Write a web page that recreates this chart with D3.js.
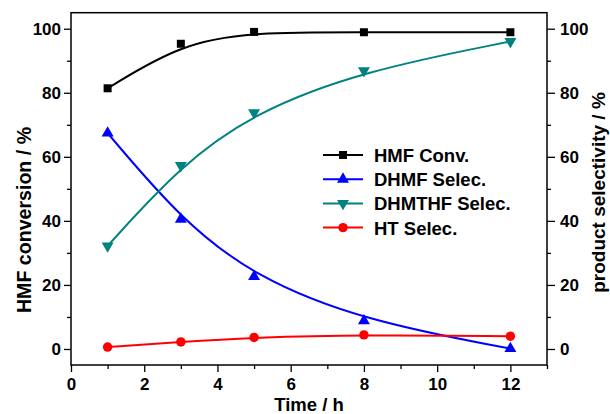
<!DOCTYPE html>
<html>
<head>
<meta charset="utf-8">
<script src="https://cdn.jsdelivr.net/npm/d3@7"></script>
<style>
  body { margin: 0; background: #fff; }
  text { font-family: "Liberation Sans", Arial, sans-serif; font-weight: bold; }
</style>
</head>
<body>
<div id="chart"></div>
<script>
// reaction time (h)
var times = [1, 3, 5, 8, 12];

// series values (%)
var hmfConv = [81.4, 95.3, 99.0, 98.9, 98.9];
var dhmfSel = [67.4, 40.5, 22.6, 8.8, 0.1];
var dhmthfSel = [32.2, 57.3, 73.8, 86.9, 96.0];
var htSel = [0.6, 2.2, 3.6, 4.4, 4.0];

var seriesNames = ["HMF Conv.", "DHMF Selec.", "DHMTHF Selec.", "HT Selec."];
var seriesColors = ["#000000", "#0000ff", "#00837e", "#ff0000"];
var seriesSymbols = ["square", "triangle", "triangleDown", "circle"];

var xTicks = [0, 2, 4, 6, 8, 10, 12];
var xMinor = [1, 3, 5, 7, 9, 11, 13];
var yTicks = [0, 20, 40, 60, 80, 100];
var yMinor = [10, 30, 50, 70, 90];

var width = 610,
    height = 414;

var mLeft = 71, mRight = 547, mTop = 12.7, mBottom = 365;

var x = d3.scaleLinear().domain([0, 13]).range([mLeft, mRight]);
var y = d3.scaleLinear().domain([-5, 105]).range([mBottom, mTop]);

var svg = d3.select("#chart").append("svg")
    .attr("width", width)
    .attr("height", height);

// axes
svg.append("g")
    .attr("transform", "translate(0," + mBottom + ")")
    .call(d3.axisBottom(x).tickValues(xTicks).tickSize(7).tickPadding(6).tickFormat(d3.format("d")))
    .call(styleAxis);
svg.append("g")
    .attr("transform", "translate(0," + mBottom + ")")
    .call(d3.axisBottom(x).tickValues(xMinor).tickSize(4).tickFormat(""))
    .call(styleAxis);

svg.append("g")
    .attr("transform", "translate(" + mLeft + ",0)")
    .call(d3.axisLeft(y).tickValues(yTicks).tickSize(7).tickPadding(3))
    .call(styleAxis);
svg.append("g")
    .attr("transform", "translate(" + mLeft + ",0)")
    .call(d3.axisLeft(y).tickValues(yMinor).tickSize(4).tickFormat(""))
    .call(styleAxis);

svg.append("g")
    .attr("transform", "translate(" + mRight + ",0)")
    .call(d3.axisRight(y).tickValues(yTicks).tickSize(8).tickPadding(5))
    .call(styleAxis);
svg.append("g")
    .attr("transform", "translate(" + mRight + ",0)")
    .call(d3.axisRight(y).tickValues(yMinor).tickSize(4).tickFormat(""))
    .call(styleAxis);

function styleAxis(g) {
    g.select(".domain").remove();
    g.selectAll(".tick line").attr("stroke", "#000").attr("stroke-width", 1.3);
    g.selectAll(".tick text").attr("fill", "#000").style("font-size", "17px");
}

// frame
svg.append("rect")
    .attr("x", mLeft)
    .attr("y", mTop)
    .attr("width", mRight - mLeft)
    .attr("height", mBottom - mTop)
    .attr("fill", "none")
    .attr("stroke", "#000")
    .attr("stroke-width", 1.5);

// axis titles
svg.append("text")
    .attr("x", (mLeft + mRight) / 2)
    .attr("y", 411)
    .attr("text-anchor", "middle")
    .style("font-size", "18.5px")
    .text("Time / h");

svg.append("text")
    .attr("transform", "translate(31,220) rotate(-90)")
    .attr("text-anchor", "middle")
    .style("font-size", "19.6px")
    .text("HMF conversion / %");

svg.append("text")
    .attr("transform", "translate(605,192.5) rotate(-90)")
    .attr("text-anchor", "middle")
    .style("font-size", "19px")
    .text("product selectivity / %");

// series
var allSeries = [hmfConv, dhmfSel, dhmthfSel, htSel];

function symbolPath(kind) {
    if (kind == "square") return d3.symbol().type(d3.symbolSquare).size(64)();
    if (kind == "circle") return d3.symbol().type(d3.symbolCircle).size(70)();
    return d3.symbol().type(d3.symbolTriangle).size(62)();
}

var line = d3.line()
    .x(function (d) { return x(d[0]); })
    .y(function (d) { return y(d[1]); })
    .curve(d3.curveBasis);

allSeries.forEach(function (vals, i) {
    var pts = times.map(function (t, j) { return [t, vals[j]]; });
    svg.append("path")
        .datum(pts)
        .attr("d", line)
        .attr("fill", "none")
        .attr("stroke", seriesColors[i])
        .attr("stroke-width", 2);

    svg.selectAll(".m" + i)
        .data(pts).enter().append("path")
        .attr("class", "m" + i)
        .attr("d", symbolPath(seriesSymbols[i]))
        .attr("transform", function (d) {
            var r = seriesSymbols[i] == "triangleDown" ? " rotate(180)" : "";
            return "translate(" + x(d[0]) + "," + y(d[1]) + ")" + r;
        })
        .attr("fill", seriesColors[i]);
});

// legend
var legend = svg.selectAll(".legend")
    .data(seriesNames).enter().append("g")
    .attr("class", "legend")
    .attr("transform", function (d, i) { return "translate(323," + (155 + i * 24.2) + ")"; });

legend.append("line")
    .attr("x1", 0).attr("x2", 40)
    .attr("stroke", function (d, i) { return seriesColors[i]; })
    .attr("stroke-width", 2);

legend.append("path")
    .attr("d", function (d, i) { return symbolPath(seriesSymbols[i]); })
    .attr("transform", function (d, i) {
        return "translate(20,0)" + (seriesSymbols[i] == "triangleDown" ? " rotate(180)" : "");
    })
    .attr("fill", function (d, i) { return seriesColors[i]; });

legend.append("text")
    .attr("x", 51)
    .attr("y", 7)
    .style("font-size", "18.5px")
    .text(function (d) { return d; });
</script>
</body>
</html>
